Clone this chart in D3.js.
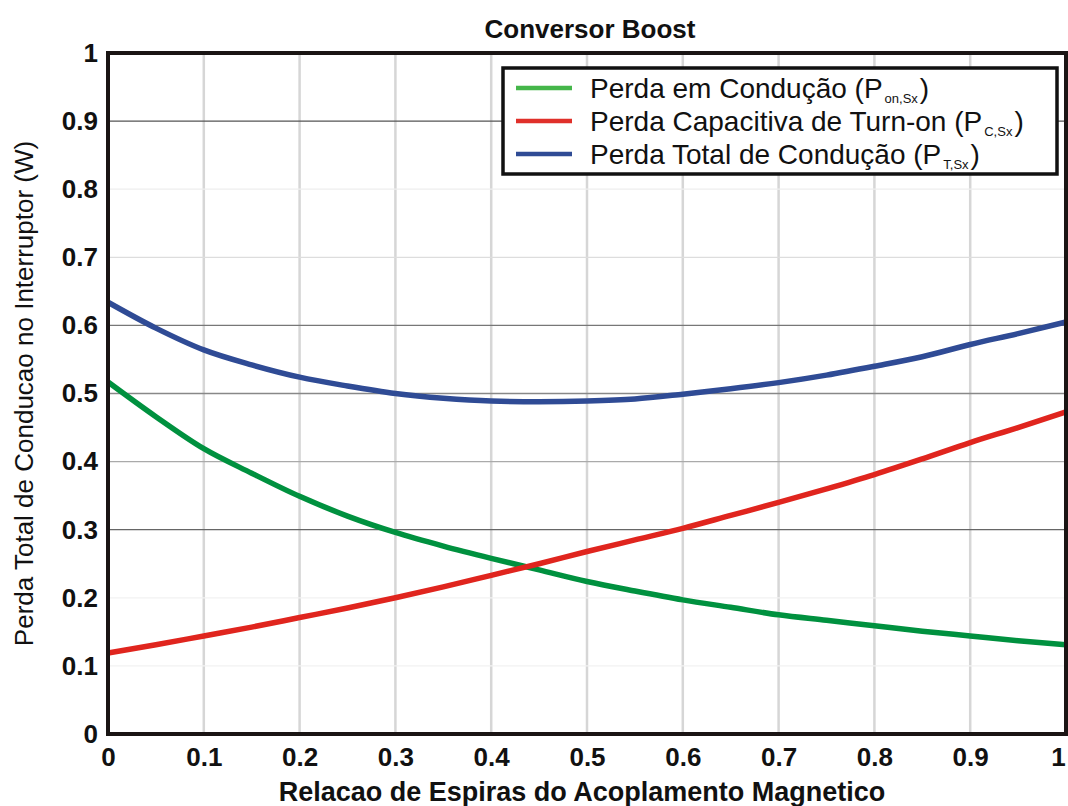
<!DOCTYPE html>
<html><head><meta charset="utf-8">
<script src="https://cdn.jsdelivr.net/npm/d3@7"></script>
<style>html,body{margin:0;padding:0;background:#fff}svg{display:block}</style>
</head><body>
<svg id="chart" width="1068" height="806"></svg>
<script>
const title = "Conversor Boost";
const xLabel = "Relacao de Espiras do Acoplamento Magnetico";
const yLabel = "Perda Total de Conducao no Interruptor (W)";
const xValues = [0,0.05,0.1,0.15,0.2,0.25,0.3,0.35,0.4,0.45,0.5,0.55,0.6,0.65,0.7,0.75,0.8,0.85,0.9,0.95,1];
const conducao = [0.517,0.466,0.419,0.383,0.349,0.320,0.296,0.276,0.258,0.241,0.224,0.210,0.197,0.186,0.175,0.167,0.159,0.151,0.144,0.137,0.131];
const capacitiva = [0.119,0.131,0.144,0.157,0.171,0.185,0.200,0.216,0.233,0.250,0.268,0.285,0.302,0.321,0.340,0.360,0.381,0.404,0.428,0.450,0.473];
const total = [0.634,0.596,0.564,0.542,0.524,0.511,0.500,0.493,0.489,0.488,0.489,0.492,0.499,0.507,0.516,0.527,0.540,0.554,0.572,0.588,0.605];
const xTicks = [0,0.1,0.2,0.3,0.4,0.5,0.6,0.7,0.8,0.9,1];
const yTicks = [0,0.1,0.2,0.3,0.4,0.5,0.6,0.7,0.8,0.9,1];
const seriesNames = ["Perda em Condução (P", "Perda Capacitiva de Turn-on (P", "Perda Total de Condução (P"];
const seriesSubs = ["on,Sx", "C,Sx", "T,Sx"];

// styles (kept apart from data)
const lineColors = ["#00913f", "#e0251e", "#2f4b95"];
const legendColors = ["#45b64a", "#e0302a", "#2f4b95"];
const hGridColors = {0.1:"#f2f2f2",0.2:"#f2f2f2",0.3:"#666",0.4:"#aaa",0.5:"#888",0.6:"#777",0.7:"#ddd",0.8:"#eee",0.9:"#555"};
const FONT = "Liberation Sans, Arial, sans-serif";

const svg = d3.select("#chart");
const L = 108, R = 1066, T = 53, B = 734;
const x = d3.scaleLinear().domain([0,1]).range([L,R]);
const y = d3.scaleLinear().domain([0,1]).range([B,T]);

// vertical grid
svg.append("g").selectAll("line").data(xTicks.filter(d=>d>0&&d<1)).join("line")
  .attr("x1",d=>x(d)).attr("x2",d=>x(d)).attr("y1",T).attr("y2",B)
  .attr("stroke","#d6d6d6").attr("stroke-width",2.5);
// horizontal grid
svg.append("g").selectAll("line").data(yTicks.filter(d=>d>0&&d<1)).join("line")
  .attr("x1",L).attr("x2",R).attr("y1",d=>y(d)).attr("y2",d=>y(d))
  .attr("stroke",d=>hGridColors[d]||"#ccc").attr("stroke-width",1.3);

// axes labels via d3 axes
const xAxis = svg.append("g").attr("transform",`translate(0,${B})`)
  .call(d3.axisBottom(x).tickValues(xTicks).tickSize(0).tickPadding(14).tickFormat(d=>d3.format("")(d)));
xAxis.select(".domain").remove();
xAxis.selectAll("text").attr("font-family",FONT)
  .attr("font-size",26).attr("font-weight","bold").attr("fill","#111")
  .attr("dx",d=>d===1?-8:0);
const yAxis = svg.append("g").attr("transform",`translate(${L},0)`)
  .call(d3.axisLeft(y).tickValues(yTicks).tickSize(0).tickPadding(10).tickFormat(d=>d3.format("")(d)));
yAxis.select(".domain").remove();
yAxis.selectAll("text").attr("font-family",FONT)
  .attr("font-size",26).attr("font-weight","bold").attr("fill","#111");

// lines
const series = [conducao, capacitiva, total];
const line = d3.line().x((d,i)=>x(xValues[i])).y(d=>y(d)).curve(d3.curveMonotoneX);
series.forEach((s,k)=>{
  svg.append("path").datum(s).attr("d",line).attr("fill","none")
    .attr("stroke",lineColors[k]).attr("stroke-width",5.5).attr("stroke-linejoin","round");
});

// frame
svg.append("rect").attr("x",L).attr("y",T).attr("width",R-L).attr("height",B-T)
  .attr("fill","none").attr("stroke","#1a1514").attr("stroke-width",4);

// title
svg.append("text").attr("x",590).attr("y",38).attr("text-anchor","middle")
  .attr("font-family",FONT).attr("font-size",26).attr("font-weight","bold")
  .attr("fill","#111").text(title);
// x label
svg.append("text").attr("x",582).attr("y",801).attr("text-anchor","middle")
  .attr("font-family",FONT).attr("font-size",27).attr("font-weight","bold")
  .attr("fill","#111").text(xLabel);
// y label
svg.append("text").attr("transform",`translate(33,${(T+B)/2}) rotate(-90)`).attr("text-anchor","middle")
  .attr("font-family",FONT).attr("font-size",26)
  .attr("fill","#111").text(yLabel);

// legend
const lg = svg.append("g");
lg.append("rect").attr("x",503).attr("y",68).attr("width",554).attr("height",106)
  .attr("fill","#fff").attr("stroke","#111").attr("stroke-width",3.5);
seriesNames.forEach((nm,k)=>{
  const yy = 88 + k*33;
  lg.append("line").attr("x1",516).attr("x2",572).attr("y1",yy).attr("y2",yy)
    .attr("stroke",legendColors[k]).attr("stroke-width",4.5);
  const t = lg.append("text").attr("x",590).attr("y",yy+10)
    .attr("font-family",FONT).attr("font-size",28).attr("fill","#111");
  t.append("tspan").text(nm);
  t.append("tspan").attr("font-size",13).attr("dy",5).attr("dx",2).text(seriesSubs[k]);
  t.append("tspan").attr("dy",-5).attr("dx",2).text(")");
});
</script>
</body></html>
